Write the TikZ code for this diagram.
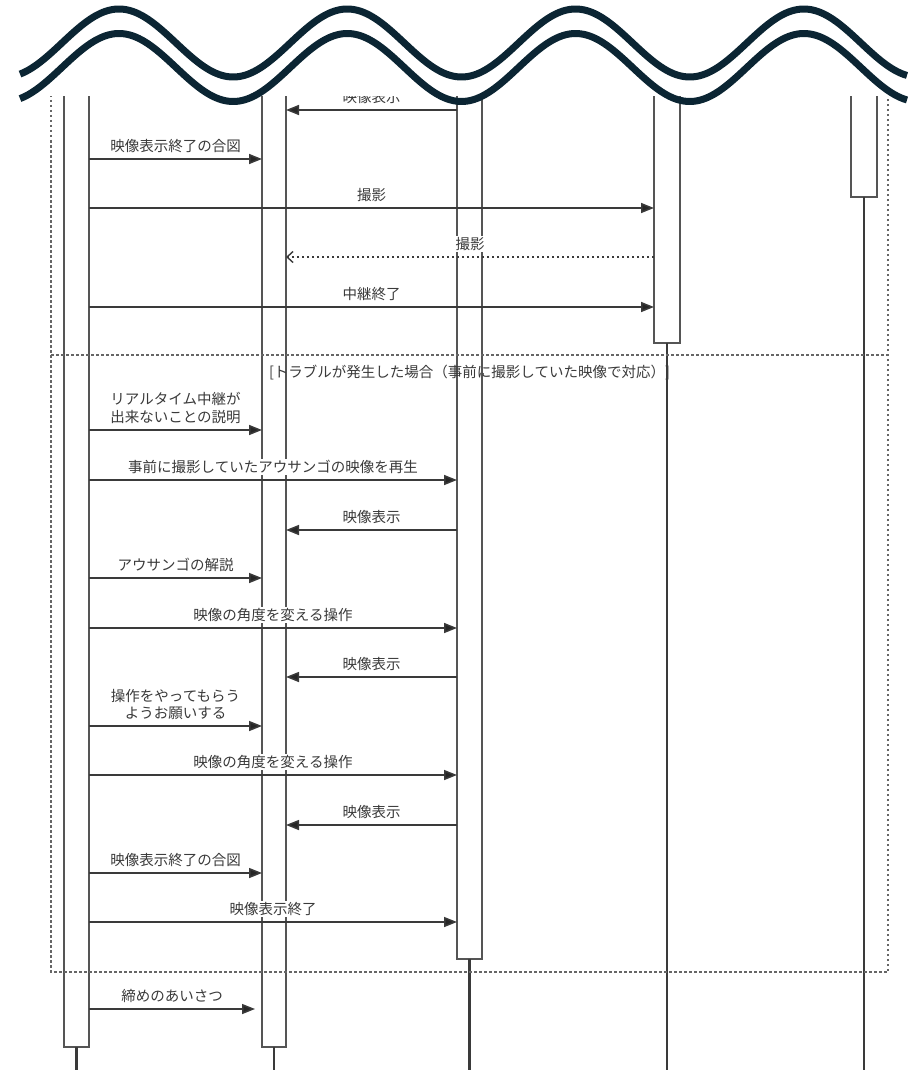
\documentclass[tikz,border=0pt]{standalone}
\usepackage{fontspec}
\newfontfamily\jp{Noto Sans CJK JP}
\usetikzlibrary{arrows.meta}
\definecolor{wavec}{HTML}{0B2533}
\definecolor{linec}{HTML}{3A3A3A}
\definecolor{boxc}{HTML}{555555}
\definecolor{textc}{HTML}{3A3A3A}
\begin{document}
\begin{tikzpicture}[x=1pt,y=-1pt,
  actbox/.style={draw=boxc, fill=white, line width=1.6pt, inner sep=0pt, outer sep=0pt},
  stem/.style={draw=linec, line width=2.2pt},
  msg/.style={draw=linec, line width=1.5pt, -{Triangle[length=13pt,width=10pt,fill=black!85]}},
  ret/.style={draw=linec, line width=1.4pt, dash pattern=on 2.5pt off 2.5pt, -{Straight Barb[length=6pt,width=11pt]}},
  frame/.style={draw=black!60, line width=1.3pt, dash pattern=on 2.5pt off 2.5pt},
  lbl/.style={font=\jp\fontsize{14.5}{17.5}\selectfont, text=textc, fill=white, inner sep=1pt, align=center},
  flbl/.style={font=\jp\fontsize{14.5}{17.5}\selectfont, text=textc, inner sep=1pt},
  wave/.style={draw=wavec, line width=7pt, line cap=butt, line join=round}
]
\useasboundingbox (0,0) rectangle (907,1070);
\fill[white] (0,0) rectangle (907,1070);

\begin{scope}
\clip (0,97) rectangle (907,1070);
% activation boxes
\node[actbox, minimum width=25pt, minimum height=1067pt] (b1) at (76.5,513.5) {};
\node[actbox, minimum width=24pt, minimum height=1067pt] (b2) at (274,513.5) {};
\node[actbox, minimum width=25pt, minimum height=979pt] (b3) at (469.5,469.5) {};
\node[actbox, minimum width=26pt, minimum height=363pt] (b4) at (667,161.5) {};
\node[actbox, minimum width=26pt, minimum height=217pt] (b5) at (864,88.5) {};
\coordinate (bot) at (0,1080);
\draw[stem] (b1.south) -- (b1.south |- bot);
\draw[stem] (b2.south) -- (b2.south |- bot);
\draw[stem] (b3.south) -- (b3.south |- bot);
\draw[stem] (b4.south) -- (b4.south |- bot);
\draw[stem] (b5.south) -- (b5.south |- bot);

% frame
\coordinate (fTL) at (51,-20);
\coordinate (fBR) at (888,972);
\coordinate (sepL) at (51,355);
\coordinate (sepR) at (888,355);
\draw[frame] (fTL) rectangle (fBR);
\draw[frame] (sepL) -- (sepR);
\node[flbl] (alt) at (469.5,373) {[トラブルが発生した場合（事前に撮影していた映像で対応）]};

% rows
\coordinate (r1) at (0,110);
\coordinate (r2) at (0,159);
\coordinate (r3) at (0,208);
\coordinate (r4) at (0,257);
\coordinate (r5) at (0,307);
\coordinate (r6) at (0,430);
\coordinate (r7) at (0,480);
\coordinate (r8) at (0,530);
\coordinate (r9) at (0,578);
\coordinate (r10) at (0,628);
\coordinate (r11) at (0,677);
\coordinate (r12) at (0,726);
\coordinate (r13) at (0,775);
\coordinate (r14) at (0,825);
\coordinate (r15) at (0,873);
\coordinate (r16) at (0,922);
\coordinate (r17) at (0,1009);

\draw[msg] (b3.west |- r1) -- node[lbl,above=4.5pt]{映像表示} (b2.east |- r1);
\draw[msg] (b1.east |- r2) -- node[lbl,above=4.5pt]{映像表示終了の合図} (b2.west |- r2);
\draw[msg] (b1.east |- r3) -- node[lbl,above=4.5pt]{撮影} (b4.west |- r3);
\draw[ret] (b4.west |- r4) -- node[lbl,above=4.5pt]{撮影} (b2.east |- r4);
\draw[msg] (b1.east |- r5) -- node[lbl,above=4.5pt]{中継終了} (b4.west |- r5);
\draw[msg] (b1.east |- r6) -- node[lbl,above=4.5pt]{リアルタイム中継が\\出来ないことの説明} (b2.west |- r6);
\draw[msg] (b1.east |- r7) -- node[lbl,above=4.5pt]{事前に撮影していたアウサンゴの映像を再生} (b3.west |- r7);
\draw[msg] (b3.west |- r8) -- node[lbl,above=4.5pt]{映像表示} (b2.east |- r8);
\draw[msg] (b1.east |- r9) -- node[lbl,above=4.5pt]{アウサンゴの解説} (b2.west |- r9);
\draw[msg] (b1.east |- r10) -- node[lbl,above=4.5pt]{映像の角度を変える操作} (b3.west |- r10);
\draw[msg] (b3.west |- r11) -- node[lbl,above=4.5pt]{映像表示} (b2.east |- r11);
\draw[msg] (b1.east |- r12) -- node[lbl,above=4.5pt]{操作をやってもらう\\ようお願いする} (b2.west |- r12);
\draw[msg] (b1.east |- r13) -- node[lbl,above=4.5pt]{映像の角度を変える操作} (b3.west |- r13);
\draw[msg] (b3.west |- r14) -- node[lbl,above=4.5pt]{映像表示} (b2.east |- r14);
\draw[msg] (b1.east |- r15) -- node[lbl,above=4.5pt]{映像表示終了の合図} (b2.west |- r15);
\draw[msg] (b1.east |- r16) -- node[lbl,above=4.5pt]{映像表示終了} (b3.west |- r16);
\coordinate (e17) at ([xshift=-7pt]b2.west |- r17);
\draw[msg] (b1.east |- r17) -- node[lbl,above=4.5pt]{締めのあいさつ} (e17);
\end{scope}

% torn-edge waves
\draw[wave] plot[domain=20:907, samples=300, smooth] (\x, {43 - 34*cos((\x-119)*1.5769)});
\draw[wave] plot[domain=20:907, samples=300, smooth] (\x, {67.5 - 34*cos((\x-119)*1.5769)});
\end{tikzpicture}
\end{document}
